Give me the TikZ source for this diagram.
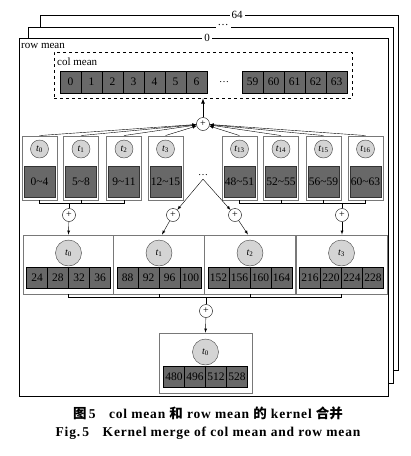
\documentclass[tikz,border=0pt]{standalone}
\usepackage{fontspec}
\setmainfont{Liberation Serif}
\newfontfamily\cjk{Noto Sans CJK SC}
\newfontfamily\capfont{Liberation Serif}[LetterSpace=6]
\usetikzlibrary{positioning,calc,arrows}
\definecolor{cellgray}{RGB}{104,104,104}
\definecolor{circgray}{RGB}{212,212,212}
\definecolor{edgegray}{RGB}{120,120,120}
\tikzset{
	layer/.style={draw,line width=1pt,fill=white},
	laylabel/.style={fill=white,inner sep=2pt,font=\fontsize{11}{11}\selectfont},
	tbox/.style={draw=edgegray,line width=0.9pt,fill=white,minimum width=35pt,minimum height=64pt,inner sep=0pt},
	tcirc/.style={circle,draw=black!75,fill=circgray,minimum size=18pt,inner sep=0pt,font=\fontsize{10}{10}\selectfont},
	tblock/.style={draw=black!80,fill=cellgray,minimum width=31pt,minimum height=31pt,inner sep=0pt,font=\fontsize{11.5}{11.5}\selectfont},
	mbox/.style={draw=edgegray,line width=0.9pt,fill=white,minimum width=91pt,minimum height=59pt,inner sep=0pt},
	mcirc/.style={circle,draw=black!75,fill=circgray,minimum size=26pt,inner sep=0pt,font=\fontsize{10}{10}\selectfont},
	cell/.style={draw,fill=cellgray,minimum width=21pt,minimum height=21pt,inner sep=0pt,font=\fontsize{11.5}{11.5}\selectfont},
	plus/.style={circle,draw,fill=white,minimum size=13pt,inner sep=0pt,font=\fontsize{10}{10}\selectfont},
	caption/.style={font=\fontsize{13.5}{13.5}\selectfont\capfont\bfseries},
}

\begin{document}
\begin{tikzpicture}[x=1pt,y=-1pt]
	\useasboundingbox (0,0) rectangle (411,456);
	% stacked row mean layers
	\filldraw[layer] (40.5,15) rectangle (398,370);
	\filldraw[layer] (28,27) rectangle (393,383);
	\filldraw[layer] (19,38) rectangle (388,396);
	\node[laylabel] (l64) at (237,15) {64};
	\node[laylabel] (ldots) at (223,25) {\ldots};
	\node[laylabel] (l0) at (207,38) {0};
	\node[anchor=west,inner sep=0pt,font=\fontsize{11}{11}\selectfont] (rowmean) at (21,46) {row mean};
	% col mean
	\node[draw,dashed,thick,minimum width=298pt,minimum height=46pt,inner sep=0pt] (colbox) at (203,75) {};
	\node[anchor=west,inner sep=0pt,font=\fontsize{11}{11}\selectfont] (colmean) at (57,62) {col mean};
	\foreach \v [count=\j] in {0,...,6}
		\node[cell,minimum height=22pt] (c\v) at (49.5+21*\j,82) {\v};
	\node (cdots) at (224,82) {\ldots};
	\foreach \v [count=\j] in {59,...,63}
		\node[cell,minimum height=22pt] (c\v) at (231.5+21*\j,82) {\v};
	\node[plus] (P) at (203,124) {+};
	\draw[-latex,thick] (P) -- (P |- colbox.south);
	% threads of first level
	\foreach \x/\n/\r [count=\i] in {39.5/0/{0\textasciitilde4},81/1/{5\textasciitilde8},124/2/{9\textasciitilde11},165.5/3/{12\textasciitilde15},239.5/13/{48\textasciitilde51},281/14/{52\textasciitilde55},323.5/15/{56\textasciitilde59},365.5/16/{60\textasciitilde63}}{
		\node[tbox] (b\i) at (\x,168) {};
		\node[tcirc] (bc\i) at (\x,149) {\textit{t}\textsubscript{\n}};
		\node[tblock] (bd\i) at (\x,181.5) {\r};
		\draw[-latex] (b\i.north) -- (P);
	}
	\node (dots) at (203,175) {\ldots};
	\node[plus] (pA) at (69,215) {+};
	\node[plus] (pB) at (173,215) {+};
	\node[plus] (pC) at (235,215) {+};
	\node[plus] (pD) at (342,215) {+};
	\draw (b1.south) -- ++(0,3) coordinate (k1) -| (b3.south);
	\draw (b2.south) -- (b2.south |- k1);
	\draw (pA) -- (pA |- k1);
	\draw (b5.south) -- ++(0,3) coordinate (k5) -| (b8.south);
	\draw (b6.south) -- (b6.south |- k5);
	\draw (b7.south) -- (b7.south |- k5);
	\draw (pD) -- (pD |- k5);
	\draw[-latex] (dots.south) -- (pB);
	\draw[-latex] (dots.south) -- (pC);
	% threads of second level
	\foreach \x/\a/\b/\c/\d [count=\i from 0] in {68.5/24/28/32/36,159/88/92/96/100,250/152/156/160/164,341.5/216/220/224/228}{
		\node[mbox] (m\i) at (\x,264.5) {};
		\node[mcirc] (mc\i) at (\x,253) {\textit{t}\textsubscript{\i}};
		\foreach \v [count=\j] in {\a,\b,\c,\d}
			\node[cell] (mv\i\j) at (\x-52.5+21*\j,277.5) {\v};
	}
	\draw[-latex] (pA) -- (m0.north);
	\draw[-latex] (pB) -- ($(m1.north)+(3,0)$);
	\draw[-latex] (pC) -- ($(m2.north)+(-2,0)$);
	\draw[-latex] (pD) -- (pD |- m3.north);
	\node[plus] (pE) at (206,311) {+};
	\draw (m0.south) -- ++(0,3) coordinate (k0) -| (m3.south);
	\draw (m1.south) -- (m1.south |- k0);
	\draw (m2.south) -- (m2.south |- k0);
	\draw (pE) -- (pE |- k0);
	% final kernel
	\node[mbox,minimum width=93pt,minimum height=60pt] (fin) at (205.5,363) {};
	\node[mcirc] (fc) at (205.5,352) {\textit{t}\textsubscript{0}};
	\foreach \v [count=\j] in {480,496,512,528}
		\node[cell] (fv\j) at (153+21*\j,376.5) {\v};
	\draw[-latex] (pE) -- (fin.north);
	% caption
	\node[caption] (cap1) at (208,413) {{\cjk 图}\,5\quad col mean {\cjk 和} row mean {\cjk 的} kernel {\cjk 合并}};
	\node[caption] (cap2) at (208,433) {Fig.\,5\quad Kernel merge of col mean and row mean};
\end{tikzpicture}
\end{document}
